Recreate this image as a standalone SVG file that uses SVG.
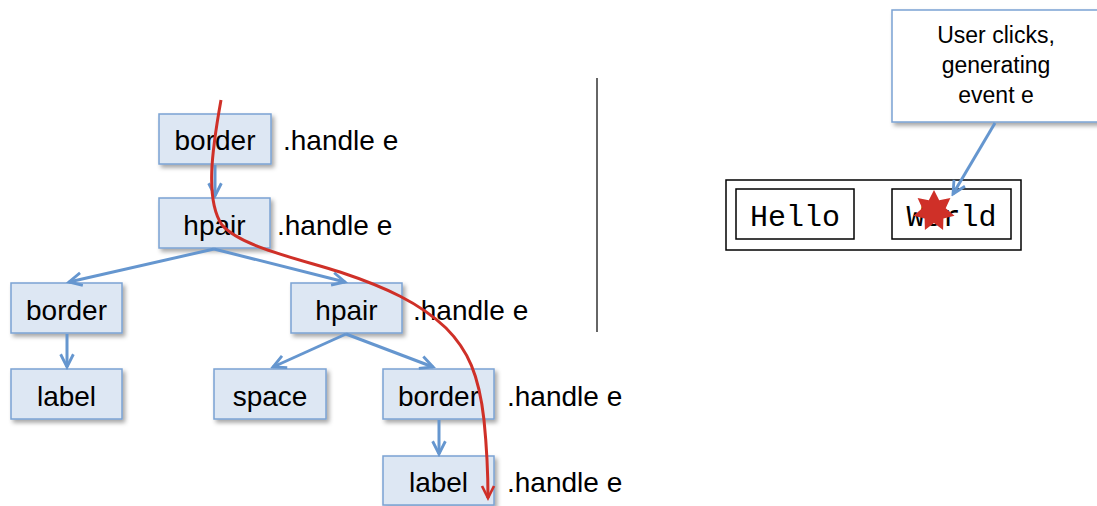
<svg xmlns="http://www.w3.org/2000/svg" width="1097" height="506" viewBox="0 0 1097 506">
<defs>
<filter id="sh" x="-20%" y="-20%" width="150%" height="160%">
<feDropShadow dx="2.5" dy="3" stdDeviation="2" flood-color="#000" flood-opacity="0.35"/>
</filter>
<marker id="ab" viewBox="0 0 12 12" refX="10" refY="6" markerWidth="17" markerHeight="17" markerUnits="userSpaceOnUse" orient="auto">
<path d="M1,1.5 L10,6 L1,10.5" fill="none" stroke="#6596CF" stroke-width="2" stroke-linejoin="miter"/>
</marker>
<marker id="ar" viewBox="0 0 12 12" refX="10" refY="6" markerWidth="16" markerHeight="16" markerUnits="userSpaceOnUse" orient="auto">
<path d="M1,1.5 L10,6 L1,10.5" fill="none" stroke="#CF3028" stroke-width="2"/>
</marker>
</defs>
<style>
.box{fill:#DDE7F3;stroke:#7BA3D3;stroke-width:1.5;filter:url(#sh)}
.t{font-family:"Liberation Sans",Arial,sans-serif;font-size:28px;fill:#000}
.m{text-anchor:middle}
.c{fill:none;stroke:#6596CF;stroke-width:3;marker-end:url(#ab)}
.mono{font-family:"Liberation Mono","Courier New",monospace;font-size:30px;fill:#000}
.cb{font-family:"Liberation Sans",Arial,sans-serif;font-size:23px;fill:#000;text-anchor:middle}
.k{fill:none;stroke:#000;stroke-width:1.5}
</style>
<rect width="1097" height="506" fill="#fff"/>

<g id="n-border-top"><rect class="box" x="159" y="114" width="112" height="50"/><text class="t m" x="215" y="150">border</text></g>
<g id="n-hpair-top"><rect class="box" x="159" y="198" width="111" height="50"/><text class="t m" x="214.5" y="235">hpair</text></g>
<g id="n-border-left"><rect class="box" x="11" y="283" width="111" height="50"/><text class="t m" x="66.5" y="320">border</text></g>
<g id="n-label-left"><rect class="box" x="11" y="369" width="111" height="50"/><text class="t m" x="66.5" y="406">label</text></g>
<g id="n-hpair-right"><rect class="box" x="291" y="283" width="111" height="50"/><text class="t m" x="346.5" y="320">hpair</text></g>
<g id="n-space"><rect class="box" x="214" y="369" width="112" height="50"/><text class="t m" x="270" y="406">space</text></g>
<g id="n-border-right"><rect class="box" x="383" y="369" width="111" height="50"/><text class="t m" x="438.5" y="406">border</text></g>
<g id="n-label-bottom"><rect class="box" x="383" y="456" width="111" height="49"/><text class="t m" x="438.5" y="492">label</text></g>

<g id="handles">
<text class="t" x="283" y="150">.handle e</text>
<text class="t" x="277" y="235">.handle e</text>
<text class="t" x="413" y="320">.handle e</text>
<text class="t" x="507" y="406">.handle e</text>
<text class="t" x="507" y="492">.handle e</text>
</g>

<line id="divider" x1="597" y1="78" x2="597" y2="332" stroke="#333" stroke-width="1.5"/>

<g id="window">
<rect class="k" x="726" y="180" width="295" height="70"/>
<rect class="k" x="736" y="189" width="118" height="50"/>
<text class="mono m" x="795" y="226">Hello</text>
<rect class="k" x="892" y="189" width="119" height="50"/>
<text class="mono m" x="951.5" y="226">World</text>
<polygon id="click" fill="#CF3028" points="934,190 939.2,200.2 950.4,197.9 945.7,208.3 954.5,215.7 943.4,218.5 943.1,229.9 934,223 924.9,229.9 924.6,218.5 913.5,215.7 922.3,208.3 917.6,197.9 928.8,200.2"/>
</g>

<g id="callout">
<rect x="892" y="10" width="215" height="112" fill="#fff" stroke="#7BA3D3" stroke-width="1.5" filter="url(#sh)"/>
<text class="cb" x="996" y="43">User clicks,</text>
<text class="cb" x="996" y="73">generating</text>
<text class="cb" x="996" y="103">event e</text>
</g>

<g id="connectors">
<line class="c" x1="215" y1="165" x2="215" y2="196"/>
<line class="c" x1="214" y1="249" x2="69" y2="282"/>
<line class="c" x1="214" y1="249" x2="345" y2="282"/>
<line class="c" x1="67" y1="334" x2="67" y2="367"/>
<line class="c" x1="346" y1="334" x2="273" y2="367"/>
<line class="c" x1="346" y1="334" x2="433" y2="367"/>
<line class="c" x1="439" y1="420" x2="439" y2="454"/>
<line class="c" x1="995" y1="123" x2="953" y2="194"/>
<path id="event-path" d="M221,100 C212,150 205,200 222,225 C240,246 295,258 340,272 C385,287 420,303 446,328 C468,350 479,375 484,420 C487,450 488,478 488,498" fill="none" stroke="#CF3028" stroke-width="3" marker-end="url(#ar)"/>
</g>
</svg>
